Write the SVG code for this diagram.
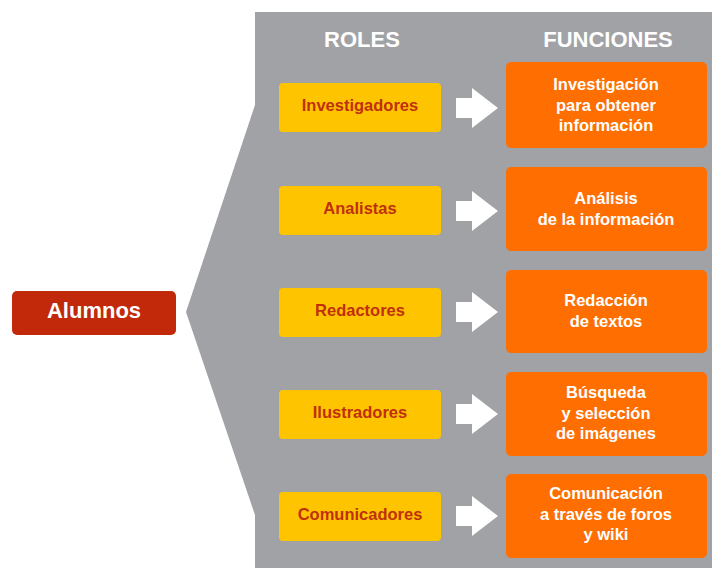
<svg xmlns="http://www.w3.org/2000/svg" width="712" height="568" viewBox="0 0 712 568">
<style>
text{font-family:"Liberation Sans",Arial,Helvetica,sans-serif;font-weight:bold;text-anchor:middle}
.hdr{fill:#fff;font-size:22px}
.role rect{fill:#FFC400}
.role text{fill:#C0300C;font-size:16.5px}
.fun rect{fill:#FF6E00}
.fun text{fill:#fff;font-size:16.5px}
.arr{fill:#fff}
</style>
<rect width="712" height="568" fill="#fff"/>
<polygon points="255,12 712,12 712,568 255,568 255,515 186,312 255,105" fill="#A1A2A6"/>
<text class="hdr" x="362" y="47">ROLES</text>
<text class="hdr" x="608" y="47">FUNCIONES</text>
<g id="alumnos"><rect x="12" y="291" width="164" height="44" rx="5" fill="#C1290A"/><text x="94" y="318" fill="#fff" font-size="22">Alumnos</text></g>
<g id="r1" class="role"><rect x="279" y="83" width="162" height="49" rx="4"/><text x="360" y="111">Investigadores</text></g>
<g id="r2" class="role"><rect x="279" y="186" width="162" height="49" rx="4"/><text x="360" y="214">Analistas</text></g>
<g id="r3" class="role"><rect x="279" y="288" width="162" height="49" rx="4"/><text x="360" y="316">Redactores</text></g>
<g id="r4" class="role"><rect x="279" y="390" width="162" height="49" rx="4"/><text x="360" y="418">Ilustradores</text></g>
<g id="r5" class="role"><rect x="279" y="492" width="162" height="49" rx="4"/><text x="360" y="520">Comunicadores</text></g>
<g id="f1" class="fun"><rect x="506" y="62" width="201" height="86" rx="5"/><text x="606" y="90">Investigación</text><text x="606" y="110.5">para obtener</text><text x="606" y="131">información</text></g>
<g id="f2" class="fun"><rect x="506" y="167" width="201" height="84" rx="5"/><text x="606" y="204">Análisis</text><text x="606" y="224.5">de la información</text></g>
<g id="f3" class="fun"><rect x="506" y="270" width="201" height="83" rx="5"/><text x="606" y="306">Redacción</text><text x="606" y="326.5">de textos</text></g>
<g id="f4" class="fun"><rect x="506" y="372" width="201" height="84" rx="5"/><text x="606" y="398">Búsqueda</text><text x="606" y="418.5">y selección</text><text x="606" y="439">de imágenes</text></g>
<g id="f5" class="fun"><rect x="506" y="474" width="201" height="84" rx="5"/><text x="606" y="499">Comunicación</text><text x="606" y="519.5">a través de foros</text><text x="606" y="540">y wiki</text></g>
<g id="connectors" class="arr">
<polygon points="456,98 472,98 472,88 498,108 472,128 472,118 456,118"/>
<polygon points="456,201 472,201 472,191 498,211 472,231 472,221 456,221"/>
<polygon points="456,302 472,302 472,292 498,312 472,332 472,322 456,322"/>
<polygon points="456,404 472,404 472,394 498,414 472,434 472,424 456,424"/>
<polygon points="456,506 472,506 472,496 498,516 472,536 472,526 456,526"/>
</g>
</svg>
